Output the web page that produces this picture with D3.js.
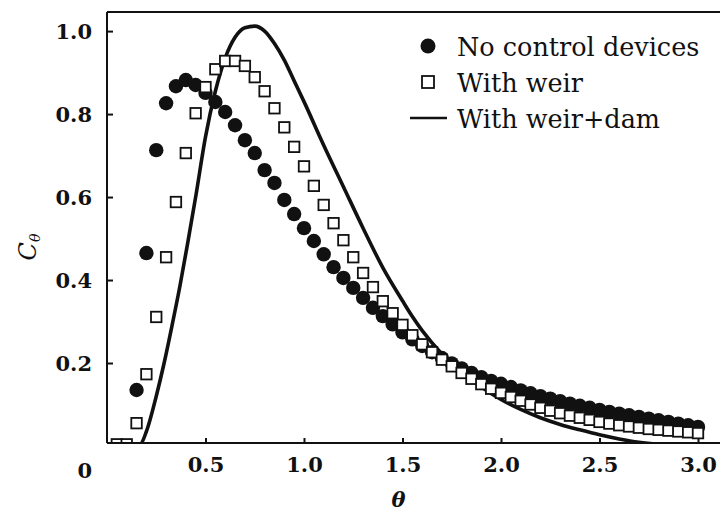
<!DOCTYPE html>
<html>
<head>
<meta charset="utf-8">
<script src="https://cdn.jsdelivr.net/npm/d3@7"></script>
<style>
  html, body { margin: 0; padding: 0; background: #fff; }
  svg { display: block; }
</style>
</head>
<body>
<svg id="chart" width="720" height="514"></svg>
<script>
// Dimensionless time θ and concentration C_θ for three tank configurations
const thetaNoControl = [0.15,0.20,0.25,0.30,0.35,0.40,0.45,0.50,0.55,0.60,0.65,0.70,0.75,0.80,0.85,0.90,0.95,1.00,
  1.05,1.10,1.15,1.20,1.25,1.30,1.35,1.40,1.45,1.50,1.55,1.60,1.65,1.70,1.75,1.80,1.85,1.90,1.95,2.00,
  2.05,2.10,2.15,2.20,2.25,2.30,2.35,2.40,2.45,2.50,2.55,2.60,2.65,2.70,2.75,2.80,2.85,2.90,2.95,3.00];
const cNoControl = [0.135,0.465,0.713,0.826,0.867,0.882,0.870,0.851,0.829,0.805,0.773,0.737,0.706,0.665,0.634,0.593,0.559,0.525,
  0.494,0.462,0.431,0.405,0.381,0.357,0.333,0.313,0.293,0.274,0.257,0.241,0.226,0.212,0.199,0.187,0.176,0.166,0.157,0.150,
  0.142,0.134,0.127,0.120,0.114,0.108,0.102,0.097,0.092,0.087,0.082,0.078,0.074,0.070,0.066,0.062,0.058,0.054,0.050,0.046];

const thetaWeir = [0.05,0.10,0.15,0.20,0.25,0.30,0.35,0.40,0.45,0.50,0.55,0.60,0.65,0.70,0.75,0.80,0.85,0.90,0.95,1.00,
  1.05,1.10,1.15,1.20,1.25,1.30,1.35,1.40,1.45,1.50,1.55,1.60,1.65,1.70,1.75,1.80,1.85,1.90,1.95,2.00,
  2.05,2.10,2.15,2.20,2.25,2.30,2.35,2.40,2.45,2.50,2.55,2.60,2.65,2.70,2.75,2.80,2.85,2.90,2.95,3.00];
const cWeir = [0.004,0.004,0.055,0.173,0.311,0.455,0.588,0.706,0.802,0.865,0.908,0.928,0.928,0.916,0.889,0.855,0.814,0.768,0.721,0.674,
  0.627,0.581,0.537,0.496,0.455,0.417,0.383,0.349,0.320,0.292,0.267,0.245,0.226,0.208,0.192,0.176,0.162,0.149,0.138,0.128,
  0.118,0.109,0.100,0.092,0.085,0.079,0.073,0.068,0.063,0.058,0.054,0.050,0.047,0.044,0.041,0.039,0.037,0.035,0.033,0.031];

const thetaWeirDam = [0.00,0.10,0.17,0.20,0.25,0.29,0.33,0.37,0.41,0.45,0.50,0.55,0.60,0.65,0.70,0.75,0.80,0.85,0.90,0.95,1.00,
  1.10,1.20,1.30,1.40,1.50,1.55,1.60,1.70,1.80,1.90,2.00,2.10,2.20,2.30,2.40,2.50,2.60,2.70,2.80,2.90,3.00];
const cWeirDam = [0.000,0.000,0.005,0.035,0.120,0.200,0.290,0.385,0.490,0.600,0.745,0.855,0.935,0.985,1.008,1.012,1.000,0.970,0.930,0.880,0.830,
  0.725,0.625,0.525,0.430,0.350,0.312,0.278,0.222,0.178,0.142,0.112,0.088,0.068,0.052,0.039,0.027,0.017,0.009,0.004,0.001,0.000];

const xTicks = [0.5, 1.0, 1.5, 2.0, 2.5, 3.0];
const yTicks = [0.2, 0.4, 0.6, 0.8, 1.0];

const legendItems = [
  { label: "No control devices", kind: "circle" },
  { label: "With weir", kind: "square" },
  { label: "With weir+dam", kind: "line" }
];

const svg = d3.select("#chart");
const W = 720, H = 514;
const ink = "#111";
const serif = "'DejaVu Serif', serif";

const x = d3.scaleLinear().domain([0, 3.0]).range([107, 698]);
const y = d3.scaleLinear().domain([0.0072, 1.046]).range([443, 12]);
const plotLeft = 107, plotRight = W, plotTop = 12, plotBottom = 443;

svg.append("rect").attr("width", W).attr("height", H).attr("fill", "#fff");

svg.append("defs").append("clipPath").attr("id", "plot-clip")
  .append("rect")
  .attr("x", plotLeft).attr("y", plotTop)
  .attr("width", plotRight - plotLeft).attr("height", plotBottom - plotTop);

const plot = svg.append("g").attr("clip-path", "url(#plot-clip)");

// Solid curve: weir + dam
const lineGen = d3.line()
  .x((d, i) => x(thetaWeirDam[i]))
  .y(d => y(d))
  .curve(d3.curveMonotoneX);
plot.append("path")
  .datum(cWeirDam)
  .attr("d", lineGen)
  .attr("fill", "none")
  .attr("stroke", ink)
  .attr("stroke-width", 3.6)
  .attr("stroke-linejoin", "round");

// Filled circles: no control devices
plot.selectAll("circle.nc")
  .data(cNoControl)
  .join("circle")
  .attr("class", "nc")
  .attr("cx", (d, i) => x(thetaNoControl[i]))
  .attr("cy", d => y(d))
  .attr("r", 7.2)
  .attr("fill", ink);

// Open squares: with weir
const sq = 10.5;
plot.selectAll("rect.weir")
  .data(cWeir)
  .join("rect")
  .attr("class", "weir")
  .attr("x", (d, i) => x(thetaWeir[i]) - sq / 2)
  .attr("y", d => y(d) - sq / 2)
  .attr("width", sq).attr("height", sq)
  .attr("fill", "#fff")
  .attr("stroke", ink)
  .attr("stroke-width", 1.8);

// Frame: left and top edges
svg.append("line")
  .attr("x1", plotLeft).attr("x2", plotRight)
  .attr("y1", plotTop).attr("y2", plotTop)
  .attr("stroke", ink).attr("stroke-width", 2);

// Bottom axis with inward ticks
const xAxis = d3.axisBottom(x).tickValues(xTicks).tickSize(-5).tickPadding(14)
  .tickFormat(d3.format(".1f"));
const gx = svg.append("g").attr("transform", `translate(0,${plotBottom})`).call(xAxis);
gx.select(".domain").attr("d", `M${plotLeft},0H${plotRight}`).attr("stroke", ink).attr("stroke-width", 2);
gx.selectAll(".tick line").attr("stroke", ink).attr("stroke-width", 2);
gx.selectAll(".tick text")
  .attr("font-family", serif).attr("font-size", 21).attr("font-weight", "bold")
  .attr("fill", ink).attr("dy", "0.72em");

// Left axis with inward ticks
const yAxis = d3.axisLeft(y).tickValues(yTicks).tickSize(-6).tickPadding(15)
  .tickFormat(d3.format(".1f"));
const gy = svg.append("g").attr("transform", `translate(${plotLeft},0)`).call(yAxis);
gy.select(".domain").attr("d", `M0,${plotTop}V${plotBottom}`).attr("stroke", ink).attr("stroke-width", 2);
gy.selectAll(".tick line").attr("stroke", ink).attr("stroke-width", 2);
gy.selectAll(".tick text")
  .attr("font-family", serif).attr("font-size", 21).attr("font-weight", "bold")
  .attr("fill", ink).attr("dy", "0.36em");

// Origin label
svg.append("text")
  .attr("x", 92).attr("y", 478)
  .attr("text-anchor", "end")
  .attr("font-family", serif).attr("font-size", 21).attr("font-weight", "bold")
  .attr("fill", ink)
  .text("0");

// Axis titles
svg.append("text")
  .attr("x", x(1.5) - 4).attr("y", 507)
  .attr("text-anchor", "middle")
  .attr("font-family", serif).attr("font-size", 21).attr("font-weight", "bold")
  .attr("font-style", "italic").attr("fill", ink)
  .text("θ");

const yTitle = svg.append("text")
  .attr("transform", "translate(36,247) rotate(-90)")
  .attr("text-anchor", "middle")
  .attr("font-family", serif).attr("font-size", 24)
  .attr("font-style", "italic").attr("fill", ink);
yTitle.append("tspan").text("C");
yTitle.append("tspan").attr("font-size", 14).attr("dy", 4).text("θ");

// Legend
const legend = svg.append("g");
legendItems.forEach((item, i) => {
  const cy = 46 + i * 36;
  const g = legend.append("g");
  if (item.kind === "circle") {
    g.append("circle").attr("cx", 428).attr("cy", cy).attr("r", 7.5).attr("fill", ink);
  } else if (item.kind === "square") {
    g.append("rect").attr("x", 428 - 6).attr("y", cy - 6).attr("width", 12).attr("height", 12)
      .attr("fill", "#fff").attr("stroke", ink).attr("stroke-width", 1.8);
  } else {
    g.append("line").attr("x1", 410).attr("x2", 447).attr("y1", cy).attr("y2", cy)
      .attr("stroke", ink).attr("stroke-width", 2.5);
  }
  g.append("text")
    .attr("x", 457).attr("y", cy + 10)
    .attr("font-family", serif).attr("font-size", 25.5)
    .attr("fill", ink)
    .text(item.label);
});
</script>
</body>
</html>
